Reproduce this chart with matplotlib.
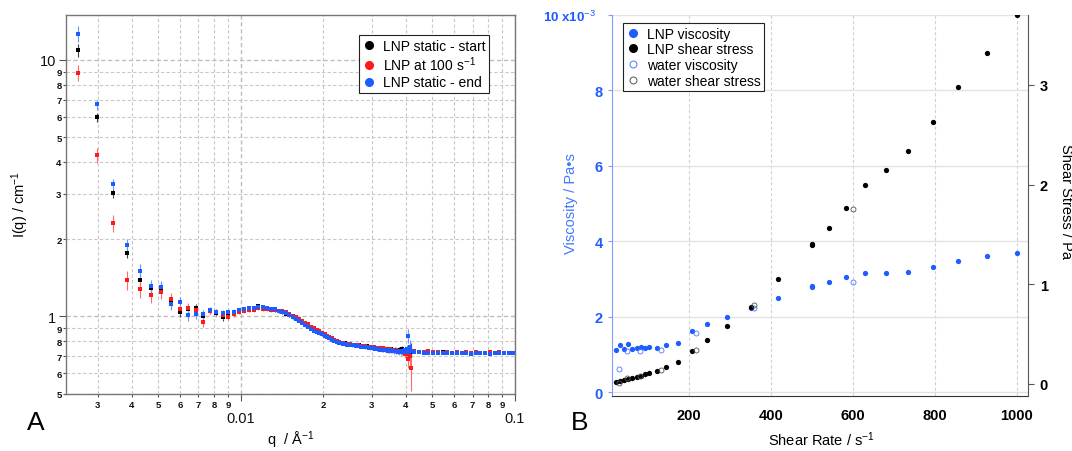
import numpy as np
import matplotlib
matplotlib.use("Agg")
import matplotlib.pyplot as plt
from matplotlib.ticker import FixedLocator, FixedFormatter, LogLocator, FuncFormatter
from matplotlib.lines import Line2D

plt.rcParams['font.family'] = ['Liberation Sans', 'DejaVu Sans']
plt.rcParams['mathtext.fontset'] = 'custom'
plt.rcParams['mathtext.rm'] = 'Liberation Sans'
plt.rcParams['mathtext.it'] = 'Liberation Sans:italic'
plt.rcParams['mathtext.bf'] = 'Liberation Sans:bold'

# ---------------- Panel A data (SANS) ----------------
q_lo = [0.00255, 0.00298, 0.00341, 0.00384, 0.00427, 0.00470, 0.00513, 0.00556, 0.00599, 0.00642,
        0.00685, 0.00728, 0.00771, 0.00814, 0.00857, 0.00900, 0.00943, 0.00986, 0.01029, 0.01072,
        0.01115, 0.01158, 0.01201, 0.01244, 0.01287, 0.01330, 0.01373, 0.01416, 0.01459, 0.01502,
        0.01545, 0.01588, 0.01631, 0.01674, 0.01717, 0.01760, 0.01803, 0.01846, 0.01889, 0.01932,
        0.01975, 0.02018, 0.02061, 0.02104, 0.02147, 0.02190, 0.02233, 0.02276, 0.02319, 0.02362,
        0.02405, 0.02448, 0.02491, 0.02534, 0.02577, 0.02620, 0.02663, 0.02706, 0.02749, 0.02792,
        0.02835, 0.02878, 0.02921, 0.02964, 0.03007, 0.03050, 0.03093, 0.03136, 0.03179, 0.03222,
        0.03265, 0.03308, 0.03351, 0.03394, 0.03437, 0.03480, 0.03523, 0.03566, 0.03609, 0.03652,
        0.03695, 0.03738, 0.03781, 0.03824, 0.03867, 0.03910, 0.03953, 0.03996, 0.04039, 0.04082,
        0.04125, 0.04168]

I_start_lo = [10.9, 5.98, 3.02, 1.77, 1.39, 1.29, 1.29, 1.15, 1.04, 1.07,
              1.08, 1.00, 1.05, 1.03, 0.99, 1.02, 1.03, 1.05, 1.06, 1.075,
              1.08, 1.095, 1.08, 1.075, 1.065, 1.06, 1.05, 1.04, 1.025, 1.01,
              0.995, 0.98, 0.96, 0.945, 0.93, 0.915, 0.90, 0.885, 0.875, 0.865,
              0.853, 0.845, 0.835, 0.825, 0.815, 0.806, 0.80, 0.795, 0.79, 0.788,
              0.784, 0.781, 0.779, 0.776, 0.775, 0.773, 0.772, 0.770, 0.768, 0.766,
              0.765, 0.763, 0.762, 0.760, 0.761, 0.757, 0.755, 0.753, 0.752, 0.750,
              0.749, 0.747, 0.748, 0.744, 0.743, 0.741, 0.743, 0.739, 0.738, 0.741,
              0.736, 0.735, 0.738, 0.732, 0.745, 0.730, 0.720, 0.735, 0.718, 0.730,
              0.722, 0.735]

I_shear_lo = [8.9, 4.25, 2.31, 1.385, 1.28, 1.21, 1.24, 1.17, 1.07, 1.08,
              1.06, 0.95, 1.05, 1.04, 1.01, 0.99, 1.02, 1.04, 1.05, 1.06,
              1.06, 1.075, 1.07, 1.065, 1.06, 1.055, 1.05, 1.045, 1.035, 1.02,
              1.005, 0.99, 0.975, 0.955, 0.94, 0.93, 0.91, 0.90, 0.885, 0.875,
              0.86, 0.85, 0.838, 0.828, 0.82, 0.81, 0.803, 0.797, 0.79, 0.786,
              0.782, 0.78, 0.777, 0.776, 0.772, 0.774, 0.77, 0.768, 0.768, 0.765,
              0.766, 0.762, 0.76, 0.759, 0.762, 0.756, 0.755, 0.755, 0.751, 0.752,
              0.748, 0.75, 0.746, 0.744, 0.745, 0.742, 0.74, 0.742, 0.737, 0.735,
              0.738, 0.733, 0.728, 0.735, 0.725, 0.73, 0.715, 0.72, 0.71, 0.68,
              0.70, 0.63]

I_end_lo = [12.6, 6.7, 3.27, 1.89, 1.50, 1.31, 1.30, 1.12, 1.14, 1.01,
            1.02, 1.02, 1.06, 1.04, 1.03, 1.04, 1.04, 1.06, 1.07, 1.075,
            1.08, 1.085, 1.085, 1.075, 1.07, 1.065, 1.05, 1.04, 1.03, 1.015,
            0.995, 0.975, 0.96, 0.945, 0.925, 0.91, 0.895, 0.88, 0.87, 0.86,
            0.85, 0.84, 0.83, 0.82, 0.81, 0.802, 0.796, 0.79, 0.787, 0.782,
            0.78, 0.776, 0.774, 0.771, 0.77, 0.767, 0.766, 0.763, 0.762, 0.76,
            0.757, 0.756, 0.754, 0.752, 0.751, 0.749, 0.747, 0.745, 0.744, 0.742,
            0.741, 0.739, 0.738, 0.737, 0.735, 0.734, 0.733, 0.732, 0.731, 0.733,
            0.730, 0.729, 0.731, 0.728, 0.735, 0.727, 0.74, 0.73, 0.745, 0.84,
            0.76, 0.73]

err_mid = [0.03, 0.03, 0.03, 0.025, 0.025, 0.02, 0.02, 0.02, 0.02, 0.02, 0.018, 0.018,
           0.018, 0.016, 0.016, 0.016, 0.015, 0.015, 0.015, 0.014, 0.014, 0.014, 0.013, 0.013,
           0.013, 0.012, 0.012, 0.012, 0.012, 0.011, 0.011, 0.011, 0.011, 0.01, 0.01, 0.01,
           0.01, 0.01, 0.01, 0.01, 0.01, 0.01, 0.01, 0.01, 0.01, 0.01, 0.01, 0.01,
           0.01, 0.01, 0.01, 0.01, 0.011, 0.011, 0.011, 0.011, 0.012, 0.012, 0.012, 0.013,
           0.013, 0.013, 0.014, 0.014, 0.015, 0.015, 0.016, 0.016, 0.017, 0.018, 0.019, 0.02,
           0.021, 0.022, 0.024, 0.026]
err_start_low = [0.65, 0.25, 0.12, 0.08, 0.07, 0.06, 0.06, 0.05, 0.045, 0.04, 0.04, 0.035]
err_start_end = [0.03, 0.035, 0.04, 0.05]
err_shear_low = [0.65, 0.30, 0.18, 0.12, 0.10, 0.08, 0.07, 0.06, 0.05, 0.05, 0.045, 0.04]
err_shear_end = [0.03, 0.05, 0.06, 0.12]
err_end_low = [0.9, 0.30, 0.15, 0.12, 0.10, 0.07, 0.07, 0.06, 0.05, 0.05, 0.045, 0.04]
err_end_end = [0.03, 0.05, 0.05, 0.04]

q_hi = [0.0350, 0.0365, 0.0380, 0.0396, 0.0412, 0.0429, 0.0446, 0.0464, 0.0483, 0.0503,
        0.0523, 0.0544, 0.0566, 0.0589, 0.0613, 0.0638, 0.0664, 0.0691, 0.0719, 0.0748,
        0.0778, 0.0810, 0.0843, 0.0877, 0.0912, 0.0949, 0.0987]
I_start_hi = [0.742, 0.738, 0.735, 0.733, 0.73, 0.727, 0.728, 0.724, 0.725, 0.723,
              0.722, 0.724, 0.721, 0.72, 0.722, 0.72, 0.719, 0.721, 0.72, 0.718,
              0.72, 0.719, 0.718, 0.72, 0.719, 0.718, 0.72]
I_shear_hi = [0.745, 0.74, 0.732, 0.736, 0.728, 0.73, 0.726, 0.728, 0.731, 0.725,
              0.728, 0.722, 0.727, 0.722, 0.726, 0.72, 0.724, 0.721, 0.723, 0.72,
              0.722, 0.724, 0.72, 0.723, 0.721, 0.722, 0.721]
I_end_hi = [0.736, 0.734, 0.73, 0.728, 0.726, 0.723, 0.725, 0.721, 0.72, 0.722,
            0.719, 0.72, 0.718, 0.72, 0.717, 0.719, 0.718, 0.716, 0.718, 0.717,
            0.719, 0.716, 0.718, 0.717, 0.719, 0.718, 0.717]
err_hi = [0.008, 0.008, 0.007, 0.007, 0.007, 0.006, 0.006, 0.006, 0.006, 0.006,
          0.005, 0.005, 0.005, 0.005, 0.005, 0.005, 0.005, 0.005, 0.005, 0.005,
          0.005, 0.005, 0.005, 0.006, 0.006, 0.006, 0.006]

sans_labels = ["LNP static - start", "LNP at 100 s$^{-1}$", "LNP static - end"]

# ---------------- Panel B data (rheology) ----------------
lnp_rate = [21, 32, 42, 52, 62, 72, 82, 92, 102, 121, 144, 173, 206, 245, 293, 351, 418,
            500, 500, 541, 584, 630, 680, 735, 794, 857, 926, 1000]
lnp_visc = [1.13, 1.256, 1.15, 1.27, 1.15, 1.176, 1.20, 1.185, 1.20, 1.185, 1.24, 1.30,
            1.62, 1.80, 1.99, 2.23, 2.50, 2.82, 2.78, 2.93, 3.05, 3.17, 3.15, 3.19, 3.32,
            3.47, 3.60, 3.70]   # x 1e-3 Pa s
lnp_stress = [0.020, 0.030, 0.040, 0.050, 0.060, 0.067, 0.077, 0.094, 0.110, 0.131, 0.171,
              0.215, 0.325, 0.439, 0.576, 0.773, 1.048, 1.40, 1.39, 1.563, 1.767, 1.992,
              2.149, 2.339, 2.63, 2.976, 3.323, 3.705]
water_rate = [30, 48, 80, 131, 216, 359, 600]
water_visc = [0.63, 1.10, 1.10, 1.13, 1.57, 2.23, 2.93]
water_stress = [0.012, 0.053, 0.08, 0.138, 0.335, 0.793, 1.75]
rheo_labels = ["LNP viscosity", "LNP shear stress", "water viscosity", "water shear stress"]

BLUE = '#1f5cff'
RED = '#ff1a1a'
BLACK = '#000000'

W, H = 1072, 452
fig = plt.figure(figsize=(W / 100, H / 100), dpi=100)

def px_rect(x0, y0, x1, y1):
    return [x0 / W, (H - y1) / H, (x1 - x0) / W, (y1 - y0) / H]

# ================= Panel A =================
ax1 = fig.add_axes(px_rect(66, 15.7, 515, 394.5))
ax1.set_xscale('log')
ax1.set_yscale('log')

series = [
    (I_start_lo, err_start_low + err_mid + err_start_end, I_start_hi, BLACK, '#444444'),
    (I_shear_lo, err_shear_low + err_mid + err_shear_end, I_shear_hi, RED, '#ff6a6a'),
    (I_end_lo, err_end_low + err_mid + err_end_end, I_end_hi, BLUE, '#6a93ff'),
]
for ilo, elo, ihi, c, ec in series:
    ax1.errorbar(q_lo, ilo, yerr=elo, fmt='s', ms=3.0, mfc=c, mec=c, mew=0,
                 ecolor=ec, elinewidth=0.8, capsize=1.5, capthick=0.8, zorder=3)
    ax1.errorbar(q_hi, ihi, yerr=err_hi, fmt='s', ms=3.0, mfc=c, mec=c, mew=0,
                 ecolor=ec, elinewidth=0.8, capsize=1.5, capthick=0.8, zorder=3)

ax1.set_xlim(0.0023, 0.1)
ax1.set_ylim(0.5, 15)

def digit_fmt(v, pos=None):
    e = np.floor(np.log10(v) + 1e-9)
    return str(int(round(v / 10 ** e)))

ax1.xaxis.set_major_locator(FixedLocator([0.01, 0.1]))
ax1.xaxis.set_major_formatter(FixedFormatter(['0.01', '0.1']))
ax1.xaxis.set_minor_locator(LogLocator(base=10, subs=np.arange(2, 10), numticks=50))
ax1.xaxis.set_minor_formatter(FuncFormatter(digit_fmt))
ax1.yaxis.set_major_locator(FixedLocator([1, 10]))
ax1.yaxis.set_major_formatter(FixedFormatter(['1', '10']))
ax1.yaxis.set_minor_locator(LogLocator(base=10, subs=np.arange(2, 10), numticks=50))
ax1.yaxis.set_minor_formatter(FuncFormatter(digit_fmt))

ax1.tick_params(which='major', direction='out', length=5, width=0.8, color='#555555',
                labelsize=10.5, labelcolor='#111111')
ax1.tick_params(which='minor', direction='out', length=2.2, width=0.8, color='#555555',
                labelsize=6.8, labelcolor='#111111')
ax1.tick_params(axis='x', which='major', pad=7.5)
ax1.tick_params(axis='x', which='minor', pad=2.2)
ax1.tick_params(axis='y', which='major', pad=2.0)
ax1.tick_params(axis='y', which='minor', pad=1.0)
for lab in ax1.xaxis.get_minorticklabels() + ax1.yaxis.get_minorticklabels():
    lab.set_fontweight('bold')

ax1.grid(which='major', ls=(0, (3, 2)), color='#bdbdbd', lw=1.0, zorder=0)
ax1.grid(which='minor', ls=(0, (3, 2)), color='#c8c8c8', lw=0.8, zorder=0)
ax1.set_axisbelow(True)
for s in ax1.spines.values():
    s.set_color('#777777')
    s.set_linewidth(1.0)

h_sans = [Line2D([], [], ls='none', marker='o', ms=5.5, mfc=c, mec=c) for c in (BLACK, RED, BLUE)]
leg1 = ax1.legend(h_sans, sans_labels, loc='upper left', bbox_to_anchor=(0.6526, 0.946),
                  fontsize=10, frameon=True, fancybox=False, framealpha=1,
                  edgecolor='#222222', borderpad=0.25, labelspacing=0.15,
                  handlelength=0.9, handletextpad=0.55, borderaxespad=0)
leg1.get_frame().set_linewidth(0.8)

fig.text(20 / W, 1 - 205 / H, "I(q) / cm$^{-1}$", rotation=90, ha='center', va='center', fontsize=10.5)
fig.text(291 / W, 1 - 440 / H, "q  / Å$^{-1}$", ha='center', va='center', fontsize=10.5)
fig.text(36 / W, 1 - 423 / H, "A", ha='center', va='center', fontsize=19)

# ================= Panel B =================
ax2 = fig.add_axes(px_rect(612.4, 15.7, 1028, 396.7))
ax2r = ax2.twinx()

ax2.plot(lnp_rate, lnp_visc, ls='none', marker='o', ms=3.8, mfc=BLUE, mec=BLUE, mew=0, zorder=3)
ax2.plot(water_rate, water_visc, ls='none', marker='o', ms=3.6, mfc='none', mec='#4a78ff', mew=0.6, zorder=4)
ax2r.plot(lnp_rate, lnp_stress, ls='none', marker='o', ms=3.8, mfc=BLACK, mec=BLACK, mew=0, zorder=3)
ax2r.plot(water_rate, water_stress, ls='none', marker='o', ms=3.6, mfc='none', mec='#555555', mew=0.6, zorder=4)

ax2.set_xlim(13, 1027)
ax2.set_ylim(-0.09, 10)
ax2r.set_ylim(-0.12, 3.705)

ax2.set_xticks([200, 400, 600, 800, 1000])
ax2.set_yticks([0, 2, 4, 6, 8, 10])
ax2.set_yticklabels(['0', '2', '4', '6', '8', ''])
ax2r.set_yticks([0, 1, 2, 3])

ax2.tick_params(axis='x', length=0, pad=9.0, labelsize=10.5)
ax2.tick_params(axis='y', direction='out', length=3, width=0.8, color='#7d9cff',
                labelcolor=BLUE, labelsize=10.5, pad=4)
ax2r.tick_params(axis='y', direction='out', length=4.5, width=0.8, color='#555555',
                 labelsize=10.5, pad=4)
for lab in ax2.get_xticklabels() + ax2.get_yticklabels() + ax2r.get_yticklabels():
    lab.set_fontweight('bold')

ax2.grid(axis='x', ls=(0, (3, 2)), color='#d2d2d2', lw=0.8)
ax2.grid(axis='y', ls='-', color='#e2e2e2', lw=1.0)
ax2.set_axisbelow(True)

for a in (ax2, ax2r):
    a.spines['top'].set_visible(False)
ax2.spines['left'].set_color('#7d9cff')
ax2.spines['bottom'].set_color('#333333')
ax2.spines['right'].set_visible(False)
ax2r.spines['left'].set_visible(False)
ax2r.spines['bottom'].set_visible(False)
ax2r.spines['right'].set_color('#555555')

h_rheo = [Line2D([], [], ls='none', marker='o', ms=5.5, mfc=BLUE, mec=BLUE),
          Line2D([], [], ls='none', marker='o', ms=5.5, mfc=BLACK, mec=BLACK),
          Line2D([], [], ls='none', marker='o', ms=5.0, mfc='none', mec='#4a78ff', mew=0.7),
          Line2D([], [], ls='none', marker='o', ms=5.0, mfc='none', mec='#555555', mew=0.7)]
leg2 = ax2r.legend(h_rheo, rheo_labels, loc='upper left', bbox_to_anchor=(0.0255, 0.978),
                   fontsize=10, frameon=True, fancybox=False, framealpha=1,
                   edgecolor='#222222', borderpad=0.25, labelspacing=0.12,
                   handlelength=0.9, handletextpad=0.55, borderaxespad=0)
leg2.get_frame().set_linewidth(0.8)

fig.text(596 / W, 1 - 17 / H, "10 x10$^{-3}$", ha='right', va='center', fontsize=9.5,
         color=BLUE, fontweight='bold')
fig.text(571 / W, 1 - 204 / H, "Viscosity / Pa•s", rotation=90, ha='center', va='center',
         fontsize=10.5, color='#3f78ff')
fig.text(1066 / W, 1 - 202 / H, "Shear Stress / Pa", rotation=-90, ha='center', va='center',
         fontsize=10.5)
fig.text(821 / W, 1 - 440 / H, "Shear Rate / s$^{-1}$", ha='center', va='center', fontsize=10.5)
fig.text(580 / W, 1 - 423 / H, "B", ha='center', va='center', fontsize=19)

fig.savefig("out.png", dpi=100)
